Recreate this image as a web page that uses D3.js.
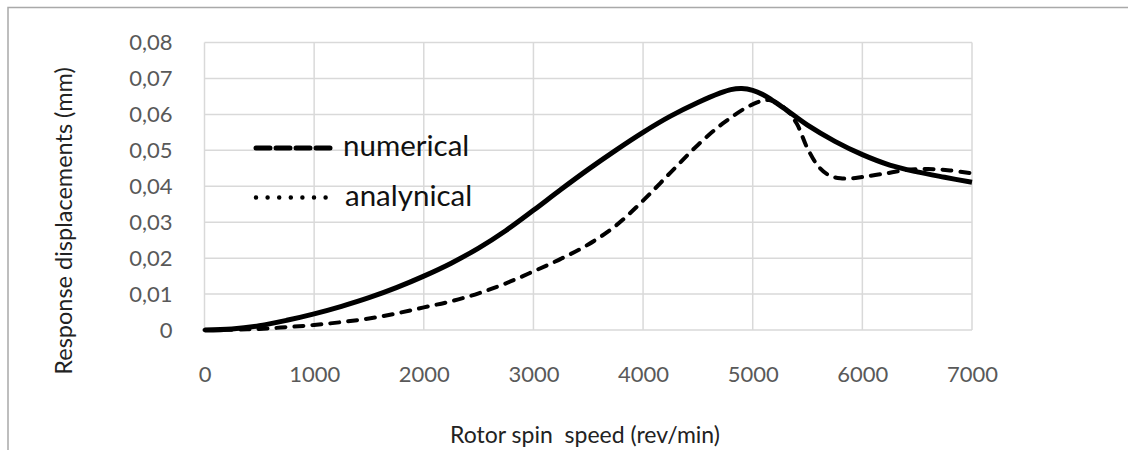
<!DOCTYPE html>
<html>
<head>
<meta charset="utf-8">
<script src="https://cdn.jsdelivr.net/npm/d3@7"></script>
<style>
  html, body { margin: 0; padding: 0; background: #fff; }
  svg { display: block; font-family: Lato, "Open Sans", sans-serif; }
</style>
</head>
<body>
<svg id="chart" width="1128" height="450"></svg>
<script>
// ---- data ----
const numSpeed = [0, 250, 500, 750, 1000, 1250, 1500, 1750, 2000, 2250, 2500, 2750, 3000, 3250, 3500, 3750, 4000, 4250, 4500, 4750, 5000, 5150, 5300, 5400, 5500, 5600, 5700, 5800, 5900, 6000, 6200, 6400, 6600, 6800, 7000];
const numerical = [0, 0.0001, 0.0003, 0.0008, 0.0014, 0.0022, 0.0032, 0.0046, 0.0063, 0.0080, 0.0102, 0.0130, 0.0163, 0.0198, 0.0238, 0.0290, 0.0360, 0.0438, 0.0515, 0.0580, 0.0628, 0.0640, 0.0615, 0.0575, 0.0505, 0.0455, 0.0430, 0.0422, 0.0422, 0.0426, 0.0435, 0.0445, 0.0448, 0.0444, 0.0436];
const anaSpeed = [0, 250, 500, 750, 1000, 1250, 1500, 1750, 2000, 2250, 2500, 2750, 3000, 3250, 3500, 3750, 4000, 4250, 4500, 4700, 4800, 4900, 5000, 5100, 5200, 5300, 5500, 5750, 6000, 6250, 6500, 6750, 7000];
const analytical = [0, 0.0003, 0.0012, 0.0027, 0.0045, 0.0066, 0.0090, 0.0118, 0.0150, 0.0186, 0.0228, 0.0277, 0.0333, 0.0391, 0.0447, 0.0500, 0.0550, 0.0595, 0.0633, 0.0659, 0.0669, 0.0672, 0.0667, 0.0654, 0.0635, 0.0614, 0.0570, 0.0525, 0.0488, 0.0459, 0.0440, 0.0425, 0.0411];
const xTicks = [0, 1000, 2000, 3000, 4000, 5000, 6000, 7000];
const yTicks = [0, 0.01, 0.02, 0.03, 0.04, 0.05, 0.06, 0.07, 0.08];
const seriesNames = ["numerical", "analynical"];
const xTitle = "Rotor spin  speed (rev/min)";
const yTitle = "Response displacements (mm)";

// ---- layout ----
const svg = d3.select("#chart");
const pLeft = 204.5, pRight = 972, pTop = 42.5, pBottom = 330;
const x = d3.scaleLinear().domain([0, 7000]).range([pLeft, pRight]);
const y = d3.scaleLinear().domain([0, 0.08]).range([pBottom, pTop]);

// outer frame (cropped)
svg.append("path")
  .attr("d", "M8,450 L8,7.5 L1128,7.5")
  .attr("fill", "none").attr("stroke", "#a9a9a9").attr("stroke-width", 1.5);

// grid
const grid = svg.append("g");
grid.selectAll("line.h").data(yTicks).join("line").attr("class", "h")
  .attr("x1", pLeft).attr("x2", pRight)
  .attr("y1", d => y(d)).attr("y2", d => y(d))
  .attr("stroke", "#d9d9d9").attr("stroke-width", 1.5);
grid.selectAll("line.v").data(xTicks).join("line").attr("class", "v")
  .attr("y1", pTop).attr("y2", pBottom)
  .attr("x1", d => x(d)).attr("x2", d => x(d))
  .attr("stroke", "#d9d9d9").attr("stroke-width", 1.5);

// axes labels using d3 axes
const fmt = d => d === 0 ? "0" : d3.format(".2f")(d).replace(".", ",");
const yAxis = svg.append("g").attr("transform", `translate(${pLeft},0)`)
  .call(d3.axisLeft(y).tickValues(yTicks).tickFormat(fmt).tickSize(0).tickPadding(32));
const xAxis = svg.append("g").attr("transform", `translate(0,${pBottom})`)
  .call(d3.axisBottom(x).tickValues(xTicks).tickFormat(d3.format("d")).tickSize(0).tickPadding(36));
[yAxis, xAxis].forEach(a => {
  a.select(".domain").remove();
  a.selectAll("text").attr("fill", "#595959").style("font-size", "22px").style("font-family", "Lato, sans-serif");
});

// titles
svg.append("text").attr("x", 585).attr("y", 443).attr("text-anchor", "middle")
  .attr("fill", "#222").style("font-size", "23px").style("white-space", "pre").text(xTitle);
svg.append("text").attr("transform", "translate(72,221) rotate(-90)").attr("text-anchor", "middle")
  .attr("fill", "#222").style("font-size", "23.5px").text(yTitle);

// lines
const line = d3.line().x(d => x(d[0])).y(d => y(d[1])).curve(d3.curveCatmullRom.alpha(0.5));
const anaData = anaSpeed.map((s, i) => [s, analytical[i]]);
const numData = numSpeed.map((s, i) => [s, numerical[i]]);
svg.append("path").datum(anaData).attr("d", line)
  .attr("fill", "none").attr("stroke", "#000").attr("stroke-width", 5)
  .attr("stroke-linejoin", "round");
svg.append("path").datum(numData).attr("d", line)
  .attr("fill", "none").attr("stroke", "#000").attr("stroke-width", 4)
  .attr("stroke-dasharray", "9,9").attr("stroke-linecap", "round");

// legend
const leg = svg.append("g");
leg.append("line").attr("x1", 256).attr("x2", 331).attr("y1", 148).attr("y2", 148)
  .attr("stroke", "#000").attr("stroke-width", 5)
  .attr("stroke-dasharray", "14,6").attr("stroke-linecap", "round");
leg.append("line").attr("x1", 256).attr("x2", 326).attr("y1", 197.5).attr("y2", 197.5)
  .attr("stroke", "#000").attr("stroke-width", 4.5)
  .attr("stroke-dasharray", "0,11.6").attr("stroke-linecap", "round");
leg.selectAll("text").data(seriesNames).join("text")
  .attr("x", (d, i) => i === 0 ? 343 : 345)
  .attr("y", (d, i) => i === 0 ? 156 : 206)
  .attr("fill", "#111").style("font-size", "29.5px").text(d => d);
</script>
</body>
</html>
